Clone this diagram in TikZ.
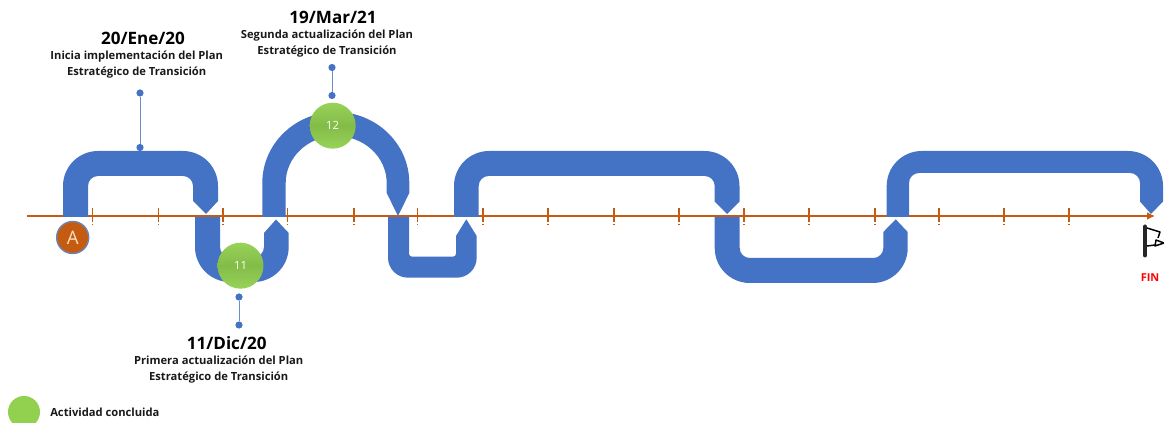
\documentclass[tikz,border=0pt]{standalone}
\usepackage{xcolor}
\usepackage{fontspec}
\setmainfont{Open Sans}
\usepackage{tikz}
\usetikzlibrary{positioning,arrows.meta}
\definecolor{bandblue}{HTML}{4472C4}
\definecolor{axisorange}{HTML}{C55A11}
\definecolor{donegreen}{HTML}{92D050}

\begin{document}
\begin{tikzpicture}[x=0.75pt, y=-0.75pt,
  band/.style={fill=bandblue},
  tickmark/.style={axisorange, line width=1.4pt, dash pattern=on 10.5pt off 1.5pt on 1pt off 5pt},
  pindot/.style={circle, fill=bandblue, inner sep=0pt, minimum size=5.4pt},
  pinline/.style={draw=bandblue!80, line width=0.6pt},
  donenode/.style={circle, inner sep=0pt, minimum size=34.5pt, top color=donegreen!95!white, bottom color=donegreen!95!white, middle color=donegreen!90!black, text=white, font=\fontsize{8.5}{9}\selectfont},
  datelab/.style={font=\fontsize{12.8}{14}\selectfont\bfseries, text=black},
  desclab/.style={font=\fontsize{8.4}{11.5}\selectfont\bfseries, align=center, text=black!90, inner sep=0pt}]
\useasboundingbox (0,0) rectangle (1164,423);
\clip (0,0) rectangle (1164,423);
% axis
\draw[axisorange, line width=1.5pt, -{Latex[length=6pt,width=6pt]}] (27,216) -- (1155,216);
\foreach \tk in {92.5,158.5,223,287.5,354,417.5,483,548,614,679,744,809,875,939,1004,1069}
  \draw[tickmark] (\tk,208) -- (\tk,226);
% bands above the axis
\fill[band] (63,217) -- (63,186) arc[start angle=180, end angle=270, radius=35] -- (183,151)
  arc[start angle=270, end angle=360, radius=35] -- (218,201) -- (206,214) -- (193,201) -- (193,186)
  arc[start angle=0, end angle=-90, radius=10] -- (98,176) arc[start angle=-90, end angle=-180, radius=10] -- (88,217) -- cycle;
\fill[band] (262.3,217) -- (262.3,183) arc[start angle=180, end angle=360, x radius=73.5, y radius=71] -- (409.3,193)
  -- (398,216) -- (386.7,193) -- (386.7,183) arc[start angle=0, end angle=-180, x radius=50.5, y radius=47] -- (285.7,217) -- cycle;
\fill[band] (454,217) -- (454,186) arc[start angle=180, end angle=270, radius=35] -- (704.5,151)
  arc[start angle=270, end angle=360, radius=35] -- (739.5,201.5) -- (727,214) -- (714.7,201.5) -- (714.7,186)
  arc[start angle=0, end angle=-90, radius=10] -- (488.7,176) arc[start angle=-90, end angle=-180, radius=10] -- (478.7,217) -- cycle;
\fill[band] (886.7,217) -- (886.7,186) arc[start angle=180, end angle=270, radius=35] -- (1128,151)
  arc[start angle=270, end angle=360, radius=35] -- (1163,201.5) -- (1151,214) -- (1140,201.5) -- (1140,183)
  arc[start angle=0, end angle=-90, radius=10] -- (919,173) arc[start angle=-90, end angle=-180, radius=10] -- (909,217) -- cycle;
% bands below the axis
\fill[band] (195,217) -- (195,247) arc[start angle=180, end angle=90, radius=35] -- (253.7,282)
  arc[start angle=90, end angle=0, radius=35] -- (288.7,233) -- (276,219.5) -- (264,233) -- (264,247)
  arc[start angle=0, end angle=90, radius=10] -- (230,257) arc[start angle=90, end angle=180, radius=10] -- (220,217) -- cycle;
\fill[band] (388,217) -- (388,257.7) arc[start angle=180, end angle=90, radius=20] -- (456.7,277.7)
  arc[start angle=90, end angle=0, radius=20] -- (476.7,236) -- (466.3,219.3) -- (456,236) -- (456,253.7)
  arc[start angle=0, end angle=90, radius=3] -- (412,256.7) arc[start angle=90, end angle=180, radius=3] -- (409,217) -- cycle;
\fill[band] (714.7,217) -- (714.7,248) arc[start angle=180, end angle=90, radius=35] -- (872.7,283)
  arc[start angle=90, end angle=0, radius=35] -- (907.7,232) -- (895.7,219.3) -- (883.3,232) -- (883.3,248)
  arc[start angle=0, end angle=90, radius=10] -- (749.7,258) arc[start angle=90, end angle=180, radius=10] -- (739.7,217) -- cycle;
% start and end marks
\node[circle, draw=black!30!bandblue!70, line width=1.1pt, fill=axisorange, minimum size=24pt, inner sep=0pt,
  text=orange!25!white, font=\fontsize{14}{15}\selectfont] (inicio) at (72.7,237.5) {A};
\draw[black!85, line width=3pt, line cap=round] (1145,226.5) -- (1145,255.5);
\draw[black, line width=1.1pt, line join=round] (1147,228) -- (1160,232) -- (1158,238) (1156,240) -- (1164,243) -- (1155,246) -- cycle (1147,246) -- (1155,245);
\node[text=red, font=\fontsize{8.2}{9}\selectfont\bfseries] (fin) at (1150,278) {FIN};
% hitos
\node[donenode] (hito11) at (240.5,265.7) {11};
\node[donenode] (hito12) at (332.7,125.7) {12};
\node[pindot] (a1) at (140,93) {};
\node[pindot] (a2) at (140,147.5) {};
\node[pindot] (b1) at (332,67.5) {};
\node[pindot] (b2) at (332,95.5) {};
\node[pindot] (c1) at (239,297) {};
\node[pindot] (c2) at (239,325) {};
\draw[pinline] (a1) -- (a2);
\draw[pinline] (b1) -- (b2);
\draw[pinline] (c1) -- (c2);
\node[datelab] (fecha1) at (143,38) {20/Ene/20};
\node[datelab] (fecha2) at (333,17) {19/Mar/21};
\node[datelab] (fecha3) at (226.7,343) {11/Dic/20};
\node[desclab] (txt1) at (136.7,64.5) {Inicia implementación del Plan\\Estratégico de Transición};
\node[desclab] (txt2) at (327,43.5) {Segunda actualización del Plan\\Estratégico de Transición};
\node[desclab] (txt3) at (218.7,369.5) {Primera actualización del Plan\\Estratégico de Transición};
% leyenda
\node[circle, fill=donegreen, minimum size=24pt, inner sep=0pt] (ley) at (24,412) {};
\node[desclab, anchor=west] (leytxt) at (50,412.5) {Actividad concluida};
\end{tikzpicture}
\end{document}
